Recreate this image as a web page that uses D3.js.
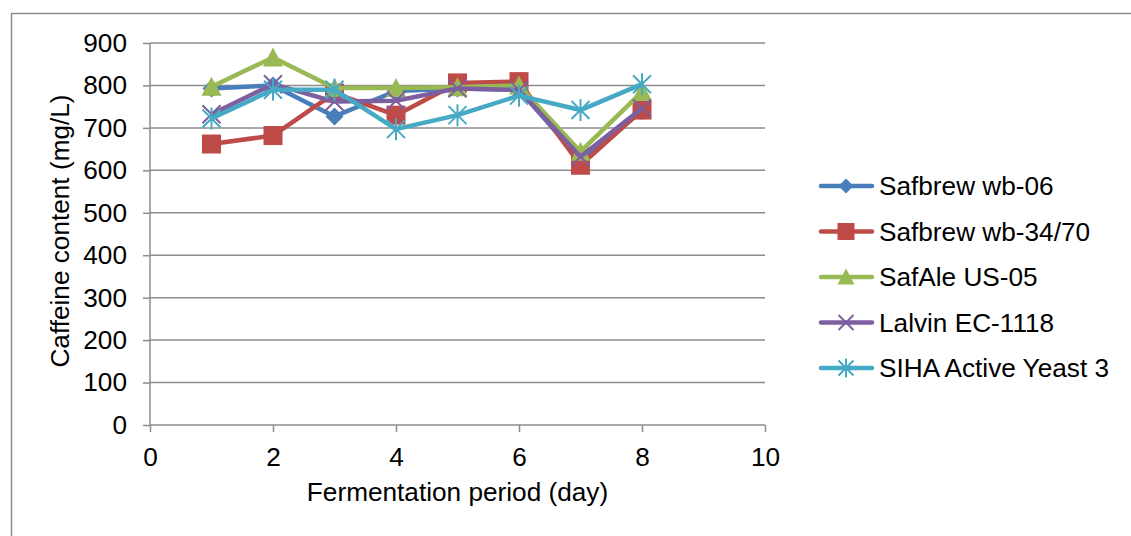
<!DOCTYPE html>
<html>
<head>
<meta charset="utf-8">
<script src="https://cdn.jsdelivr.net/npm/d3@7"></script>
<style>
  html, body { margin: 0; padding: 0; background: #fff; }
  svg { display: block; font-family: "Liberation Sans", Arial, sans-serif; }
</style>
</head>
<body>
<svg id="chart" width="1131" height="536"></svg>
<script>
const days = [1, 2, 3, 4, 5, 6, 7, 8];
const seriesNames = ["Safbrew wb-06", "Safbrew wb-34/70", "SafAle US-05", "Lalvin EC-1118", "SIHA Active Yeast 3"];
const wb06    = [793, 800, 727, 787, 793, 790, 625, 740];
const wb3470  = [662, 682, 782, 730, 806, 809, 612, 742];
const us05    = [797, 866, 794, 794, 796, 800, 644, 785];
const ec1118  = [732, 803, 762, 764, 793, 789, 632, 746];
const siha    = [722, 790, 790, 697, 730, 776, 742, 803];
const xTicks = [0, 2, 4, 6, 8, 10];
const yTicks = [0, 100, 200, 300, 400, 500, 600, 700, 800, 900];
const colors = ["#4a7ebb", "#be4b48", "#98b954", "#7d5fa0", "#46aac5"];
const markers = ["diamond", "square", "triangle", "x", "asterisk"];
const allValues = [wb06, wb3470, us05, ec1118, siha];

const FONT = "26.2px";
const svg = d3.select("#chart");
const plot = { left: 150, right: 765, top: 43, bottom: 425 };
const x = d3.scaleLinear().domain([0, 10]).range([plot.left, plot.right]);
const y = d3.scaleLinear().domain([0, 900]).range([plot.bottom, plot.top]);

// outer border
svg.append("rect").attr("x", 11.5).attr("y", 13.5).attr("width", 1200).attr("height", 600)
  .attr("fill", "none").attr("stroke", "#8c8c8c").attr("stroke-width", 1.5);

// gridlines
svg.append("g").selectAll("line").data(yTicks.filter(d => d > 0)).join("line")
  .attr("x1", plot.left).attr("x2", plot.right)
  .attr("y1", d => y(d)).attr("y2", d => y(d))
  .attr("stroke", "#8c8c8c").attr("stroke-width", 1.5);

// axes
const yAxis = svg.append("g").attr("transform", `translate(${plot.left},0)`)
  .call(d3.axisLeft(y).tickValues(yTicks).tickSize(7).tickPadding(16));
const xAxis = svg.append("g").attr("transform", `translate(0,${plot.bottom})`)
  .call(d3.axisBottom(x).tickValues(xTicks).tickSize(7).tickPadding(15));
[yAxis, xAxis].forEach(a => {
  a.select(".domain").attr("stroke", "#8c8c8c").attr("stroke-width", 1.5);
  a.selectAll(".tick line").attr("stroke", "#8c8c8c").attr("stroke-width", 1.5);
  a.selectAll("text").attr("fill", "#000").style("font-size", FONT)
    .style("font-family", "'Liberation Sans', Arial, sans-serif");
});
yAxis.select(".domain").attr("d", `M0,${plot.bottom}V${plot.top}`);
xAxis.select(".domain").attr("d", `M${plot.left},0H${plot.right}`);

// axis titles
svg.append("text").attr("x", (plot.left + plot.right) / 2) .attr("y", 501)
  .attr("text-anchor", "middle").style("font-size", FONT).text("Fermentation period (day)");
svg.append("text").attr("transform", `translate(69,231) rotate(-90)`)
  .attr("text-anchor", "middle").style("font-size", FONT).text("Caffeine content (mg/L)");

function drawMarker(g, type, color, s) {
  const h = s / 2;
  if (type === "diamond") {
    g.append("path").attr("d", `M0,${-h}L${h},0L0,${h}L${-h},0Z`).attr("fill", color);
  } else if (type === "square") {
    g.append("rect").attr("x", -h).attr("y", -h).attr("width", s).attr("height", s).attr("fill", color);
  } else if (type === "triangle") {
    g.append("path").attr("d", `M0,${-h - 1}L${h + 1},${h}L${-h - 1},${h}Z`).attr("fill", color);
  } else if (type === "x") {
    g.append("path").attr("d", `M${-h},${-h}L${h},${h}M${h},${-h}L${-h},${h}`)
      .attr("stroke", color).attr("stroke-width", 2).attr("fill", "none");
  } else if (type === "asterisk") {
    g.append("path").attr("d", `M${-h},${-h}L${h},${h}M${h},${-h}L${-h},${h}M0,${-h - 2}L0,${h + 2}`)
      .attr("stroke", color).attr("stroke-width", 2).attr("fill", "none");
  }
}

const line = d3.line().x((d, i) => x(days[i])).y(d => y(d));
allValues.forEach((vals, si) => {
  const g = svg.append("g");
  g.append("path").datum(vals).attr("d", line)
    .attr("fill", "none").attr("stroke", colors[si]).attr("stroke-width", 4.5)
    .attr("stroke-linejoin", "round");
  vals.forEach((v, i) => {
    const mg = g.append("g").attr("transform", `translate(${x(days[i])},${y(v)})`);
    drawMarker(mg, markers[si], colors[si], si === 1 ? 19 : 18);
  });
});

// legend
const legend = svg.append("g");
seriesNames.forEach((name, i) => {
  const ly = 186 + i * 45.5;
  const lg = legend.append("g").attr("transform", `translate(0,${ly})`);
  lg.append("line").attr("x1", 821).attr("x2", 872).attr("y1", 0).attr("y2", 0)
    .attr("stroke", colors[i]).attr("stroke-width", 4.5).attr("stroke-linecap", "round");
  const mg = lg.append("g").attr("transform", "translate(846,0)");
  drawMarker(mg, markers[i], colors[i], i === 1 ? 17 : 15);
  lg.append("text").attr("x", 879).attr("y", 9).style("font-size", FONT).attr("fill", "#000").text(name);
});
</script>
</body>
</html>
